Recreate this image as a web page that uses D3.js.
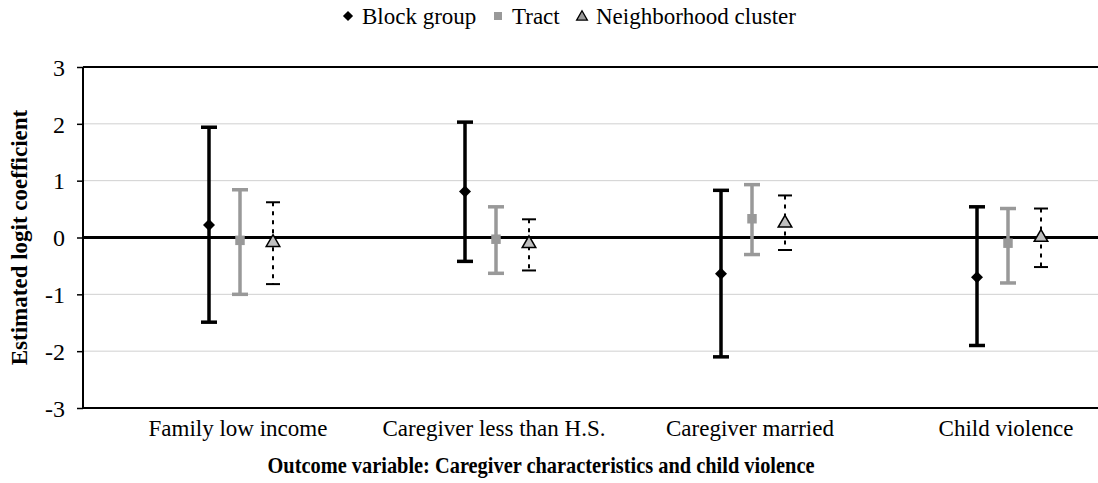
<!DOCTYPE html>
<html>
<head>
<meta charset="utf-8">
<script src="https://cdn.jsdelivr.net/npm/d3@7"></script>
<style>
  body { margin: 0; background: #fff; }
  text { font-family: "Liberation Serif", "Times New Roman", serif; fill: #000; }
</style>
</head>
<body>
<div id="chart"></div>
<script>
// categories and tick labels
var categories = ["Family low income", "Caregiver less than H.S.", "Caregiver married", "Child violence"];
var yTicks = [-3, -2, -1, 0, 1, 2, 3];

// estimates and interval ends, one value per category
var blockPoint = [0.22, 0.81, -0.64, -0.70];
var blockHigh  = [1.94, 2.03, 0.83, 0.54];
var blockLow   = [-1.49, -0.42, -2.10, -1.90];

var tractPoint = [-0.05, -0.03, 0.33, -0.10];
var tractHigh  = [0.84, 0.54, 0.93, 0.51];
var tractLow   = [-1.00, -0.63, -0.30, -0.80];

var nbhdPoint = [-0.07, -0.09, 0.27, 0.02];
var nbhdHigh  = [0.62, 0.32, 0.74, 0.51];
var nbhdLow   = [-0.82, -0.58, -0.22, -0.52];

var series = [
  {name: "Block group", point: blockPoint, high: blockHigh, low: blockLow,
   shift: -31, color: "#000", dash: null, cap: 16, kind: "diamond"},
  {name: "Tract", point: tractPoint, high: tractHigh, low: tractLow,
   shift: 0, color: "#999", dash: null, cap: 16, kind: "square"},
  {name: "Neighborhood cluster", point: nbhdPoint, high: nbhdHigh, low: nbhdLow,
   shift: 33, color: "#000", dash: "4,5", cap: 14, kind: "triangle"}
];

var W = 1098, H = 483;
var pArea = [83, 67, 1098, 408]; // left, top, right, bottom

var svg = d3.select("#chart").append("svg")
  .attr("width", W).attr("height", H);

var x = d3.scaleBand()
  .domain(categories)
  .range([112, 1136]);
var y = d3.scaleLinear()
  .domain([-3, 3])
  .range([pArea[3], pArea[1]]);

// draw one marker; diamond is a square turned 45 degrees
function marker(g, kind, cx, cy, big) {
  var p;
  if (kind === "triangle") {
    p = g.append("path")
      .attr("d", d3.symbol().type(d3.symbolTriangle).size(big ? 80 : 50)())
      .attr("transform", `translate(${cx},${cy + 1})`)
      .attr("fill", big ? "#bfbfbf" : "#999")
      .attr("stroke", "#000").attr("stroke-width", big ? 1.5 : 1.3);
  } else if (kind === "diamond") {
    p = g.append("path")
      .attr("d", d3.symbol().type(d3.symbolSquare).size(big ? 72 : 52)())
      .attr("transform", `translate(${cx},${cy}) rotate(45)`)
      .attr("fill", "#000");
  } else {
    p = g.append("path")
      .attr("d", d3.symbol().type(d3.symbolSquare).size(big ? 90 : 64)())
      .attr("transform", `translate(${cx},${cy})`)
      .attr("fill", "#999");
  }
  return p;
}

// grid
svg.append("g").selectAll("line")
  .data(yTicks.filter(function(d){ return d !== 0 && Math.abs(d) !== 3; }))
  .join("line")
    .attr("x1", pArea[0]).attr("x2", pArea[2])
    .attr("y1", function(d){ return y(d); }).attr("y2", function(d){ return y(d); })
    .attr("stroke", "#d0d0d0").attr("stroke-width", 1);

// top and bottom frame lines
[3, -3].forEach(function(v){
  svg.append("line")
    .attr("x1", pArea[0]).attr("x2", pArea[2])
    .attr("y1", y(v)).attr("y2", y(v))
    .attr("stroke", "#000").attr("stroke-width", 2);
});

// y axis
var yAxis = svg.append("g")
  .attr("transform", `translate(${pArea[0]},0)`)
  .call(d3.axisLeft(y).tickValues(yTicks).tickSize(6).tickPadding(12)
    .tickFormat(function(d){ return String(d); }));
yAxis.select(".domain").attr("stroke-width", 2).attr("d", `M0,${pArea[1]}V${pArea[3]}`);
yAxis.selectAll(".tick line").attr("stroke-width", 1.5);
yAxis.selectAll(".tick text").attr("font-size", 24).attr("dy", "0.34em");

// zero line
svg.append("line")
  .attr("x1", pArea[0]).attr("x2", pArea[2])
  .attr("y1", y(0)).attr("y2", y(0))
  .attr("stroke", "#000").attr("stroke-width", 3);

// category labels
svg.append("g").selectAll("text")
  .data(categories)
  .join("text")
    .attr("x", function(d){ return x(d) + x.bandwidth() / 2 - 2; })
    .attr("y", 436)
    .attr("text-anchor", "middle")
    .attr("font-size", 23)
    .text(function(d){ return d; });

// error bars
series.forEach(function(s){
  var g = svg.append("g");
  categories.forEach(function(c, i){
    var cx = x(c) + x.bandwidth() / 2 + s.shift;
    g.append("line")
      .attr("x1", cx).attr("x2", cx)
      .attr("y1", y(s.high[i])).attr("y2", y(s.low[i]))
      .attr("stroke", s.color)
      .attr("stroke-width", s.dash ? 2 : 3.5)
      .attr("stroke-dasharray", s.dash);
    [s.high[i], s.low[i]].forEach(function(v){
      g.append("line")
        .attr("x1", cx - s.cap / 2).attr("x2", cx + s.cap / 2)
        .attr("y1", y(v)).attr("y2", y(v))
        .attr("stroke", s.color)
        .attr("stroke-width", s.dash ? 2 : 3.5);
    });
    marker(g, s.kind, cx, y(s.point[i]), true);
  });
});

// legend
var legend = svg.append("g");
var legendItems = [
  {name: "Block group", x: 348},
  {name: "Tract", x: 498},
  {name: "Neighborhood cluster", x: 582}
];
legendItems.forEach(function(item, i){
  marker(legend, series[i].kind, item.x, 16, false);
  legend.append("text")
    .attr("x", item.x + 14).attr("y", 24)
    .attr("font-size", 23)
    .text(item.name);
});

// axis titles
svg.append("text")
  .attr("transform", `translate(27,${(pArea[1] + pArea[3]) / 2}) rotate(-90)`)
  .attr("text-anchor", "middle")
  .attr("font-size", 23).attr("font-weight", "bold")
  .text("Estimated logit coefficient");

svg.append("text")
  .attr("x", 541).attr("y", 473)
  .attr("text-anchor", "middle")
  .attr("font-size", 23).attr("font-weight", "bold")
  .attr("textLength", 547).attr("lengthAdjust", "spacingAndGlyphs")
  .text("Outcome variable: Caregiver characteristics and child violence");
</script>
</body>
</html>
